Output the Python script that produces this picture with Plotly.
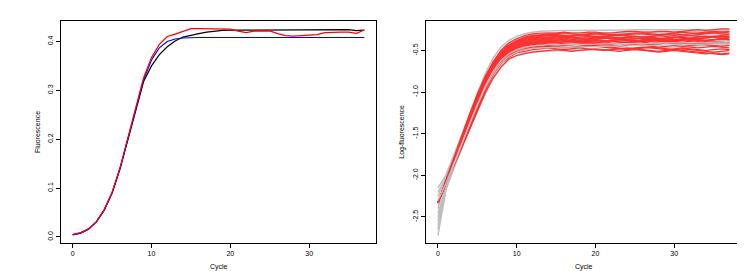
import plotly.graph_objects as go

cycles = list(range(38))

# Left panel: fluorescence curves
fluor_black = [0.005, 0.008, 0.016, 0.031, 0.055, 0.090, 0.139, 0.197, 0.257, 0.318, 0.350, 0.373,
               0.389, 0.401, 0.409, 0.413, 0.416, 0.419, 0.421, 0.4225, 0.423, 0.423, 0.424, 0.424,
               0.4245, 0.424, 0.423, 0.424, 0.424, 0.423, 0.424, 0.424, 0.4235, 0.424, 0.424, 0.424,
               0.422, 0.423]
fluor_blue = [0.004, 0.008, 0.016, 0.031, 0.055, 0.090, 0.140, 0.199, 0.262, 0.322, 0.362, 0.387,
              0.400, 0.405, 0.407, 0.408, 0.408, 0.408, 0.408, 0.408, 0.408, 0.408, 0.408, 0.408,
              0.408, 0.408, 0.408, 0.408, 0.408, 0.408, 0.408, 0.408, 0.408, 0.408, 0.408, 0.408,
              0.408, 0.408]
fluor_red = [0.005, 0.009, 0.016, 0.031, 0.056, 0.091, 0.141, 0.200, 0.264, 0.326, 0.367, 0.394,
             0.410, 0.415, 0.420, 0.426, 0.426, 0.426, 0.426, 0.426, 0.425, 0.421, 0.418, 0.421,
             0.421, 0.4215, 0.416, 0.412, 0.411, 0.412, 0.412, 0.414, 0.418, 0.419, 0.419, 0.419,
             0.4166, 0.4235]

# Right panel: log-fluorescence curves (gray = observed, red = simulated)
gray_1 = [-2.15, -2.00, -1.76, -1.51, -1.26, -1.01, -0.78, -0.59, -0.46, -0.38, -0.33, -0.30,
          -0.28, -0.27, -0.265, -0.26, -0.26, -0.26, -0.26, -0.255, -0.255, -0.255, -0.255, -0.255,
          -0.255, -0.25, -0.25, -0.25, -0.25, -0.25, -0.25, -0.25, -0.25, -0.25, -0.25, -0.25, -0.25, -0.25]
gray_2 = [-2.25, -2.03, -1.79, -1.54, -1.30, -1.06, -0.83, -0.64, -0.50, -0.41, -0.36, -0.33,
          -0.31, -0.30, -0.29, -0.29, -0.29, -0.29, -0.29, -0.285, -0.285, -0.285, -0.285, -0.28,
          -0.28, -0.28, -0.28, -0.28, -0.275, -0.275, -0.275, -0.275, -0.27, -0.27, -0.27, -0.27, -0.27, -0.27]
gray_3 = [-2.40, -2.08, -1.83, -1.58, -1.34, -1.10, -0.87, -0.68, -0.54, -0.45, -0.39, -0.36,
          -0.34, -0.33, -0.32, -0.32, -0.32, -0.32, -0.32, -0.32, -0.315, -0.315, -0.315, -0.315,
          -0.31, -0.31, -0.31, -0.31, -0.31, -0.305, -0.305, -0.305, -0.30, -0.30, -0.30, -0.30, -0.30, -0.30]
gray_4 = [-2.55, -2.12, -1.85, -1.60, -1.36, -1.12, -0.90, -0.71, -0.57, -0.48, -0.42, -0.39,
          -0.37, -0.36, -0.355, -0.35, -0.35, -0.35, -0.35, -0.35, -0.35, -0.345, -0.345, -0.345,
          -0.345, -0.34, -0.34, -0.34, -0.34, -0.34, -0.335, -0.335, -0.335, -0.335, -0.33, -0.33, -0.33, -0.33]
gray_5 = [-2.72, -2.18, -1.90, -1.65, -1.41, -1.17, -0.94, -0.75, -0.61, -0.52, -0.46, -0.43,
          -0.41, -0.40, -0.395, -0.39, -0.39, -0.39, -0.39, -0.39, -0.385, -0.385, -0.385, -0.385,
          -0.38, -0.38, -0.38, -0.38, -0.38, -0.375, -0.375, -0.375, -0.375, -0.37, -0.37, -0.37, -0.37, -0.37]
gray_6 = [-2.30, -2.10, -1.86, -1.62, -1.38, -1.15, -0.93, -0.75, -0.62, -0.54, -0.49, -0.46,
          -0.445, -0.435, -0.43, -0.43, -0.43, -0.43, -0.425, -0.425, -0.425, -0.42, -0.42, -0.42,
          -0.42, -0.415, -0.415, -0.415, -0.41, -0.41, -0.41, -0.41, -0.405, -0.405, -0.405, -0.40, -0.40, -0.40]
gray_7 = [-2.45, -2.17, -1.92, -1.68, -1.45, -1.23, -1.02, -0.84, -0.70, -0.61, -0.56, -0.53,
          -0.515, -0.51, -0.505, -0.50, -0.50, -0.50, -0.495, -0.495, -0.49, -0.49, -0.485, -0.48,
          -0.48, -0.475, -0.47, -0.47, -0.465, -0.46, -0.455, -0.45, -0.45, -0.445, -0.44, -0.44, -0.435, -0.43]
gray_8 = [-2.20, -2.04, -1.80, -1.56, -1.32, -1.08, -0.86, -0.67, -0.54, -0.45, -0.40, -0.37,
          -0.355, -0.345, -0.34, -0.34, -0.34, -0.34, -0.34, -0.335, -0.335, -0.335, -0.335, -0.33,
          -0.33, -0.33, -0.33, -0.325, -0.325, -0.325, -0.325, -0.32, -0.32, -0.32, -0.32, -0.32, -0.32, -0.32]
gray_9 = [-2.60, -2.15, -1.88, -1.63, -1.39, -1.16, -0.95, -0.78, -0.65, -0.57, -0.52, -0.49,
          -0.475, -0.47, -0.465, -0.465, -0.46, -0.46, -0.46, -0.455, -0.455, -0.45, -0.45, -0.445,
          -0.445, -0.44, -0.44, -0.44, -0.435, -0.435, -0.43, -0.43, -0.43, -0.425, -0.425, -0.42, -0.42, -0.42]
gray_10 = [-2.35, -2.06, -1.81, -1.57, -1.33, -1.09, -0.86, -0.67, -0.53, -0.44, -0.38, -0.35,
           -0.33, -0.32, -0.31, -0.31, -0.31, -0.305, -0.305, -0.305, -0.30, -0.30, -0.30, -0.30,
           -0.295, -0.295, -0.295, -0.29, -0.29, -0.29, -0.29, -0.285, -0.285, -0.285, -0.28, -0.28, -0.28, -0.28]
gray_11 = [-2.50, -2.13, -1.87, -1.62, -1.38, -1.14, -0.91, -0.73, -0.60, -0.51, -0.46, -0.43,
           -0.41, -0.40, -0.40, -0.40, -0.40, -0.40, -0.395, -0.395, -0.395, -0.395, -0.39, -0.39,
           -0.39, -0.39, -0.385, -0.385, -0.385, -0.385, -0.38, -0.38, -0.38, -0.38, -0.38, -0.38, -0.38, -0.38]
gray_12 = [-2.65, -2.16, -1.89, -1.64, -1.40, -1.17, -0.95, -0.77, -0.63, -0.55, -0.50, -0.47,
           -0.45, -0.44, -0.44, -0.44, -0.44, -0.44, -0.435, -0.435, -0.435, -0.435, -0.43, -0.43,
           -0.43, -0.43, -0.425, -0.425, -0.425, -0.42, -0.42, -0.42, -0.415, -0.415, -0.415, -0.41, -0.41, -0.41]

red_1 = [-2.33, -2.07, -1.81, -1.56, -1.30, -1.05, -0.83, -0.64, -0.50, -0.41, -0.36, -0.32,
         -0.30, -0.29, -0.29, -0.29, -0.28, -0.29, -0.29, -0.28, -0.28, -0.29, -0.29, -0.28, -0.27,
         -0.27, -0.28, -0.28, -0.27, -0.27, -0.28, -0.27, -0.26, -0.25, -0.26, -0.25, -0.24, -0.24]
red_2 = [-2.33, -2.06, -1.80, -1.53, -1.27, -1.02, -0.81, -0.64, -0.51, -0.43, -0.38, -0.34,
         -0.32, -0.31, -0.30, -0.30, -0.29, -0.30, -0.31, -0.30, -0.29, -0.30, -0.31, -0.31, -0.30,
         -0.29, -0.29, -0.30, -0.31, -0.30, -0.29, -0.28, -0.29, -0.30, -0.29, -0.28, -0.28, -0.29]
red_3 = [-2.33, -2.08, -1.84, -1.59, -1.35, -1.11, -0.88, -0.69, -0.55, -0.45, -0.39, -0.36,
         -0.34, -0.33, -0.32, -0.32, -0.33, -0.32, -0.31, -0.32, -0.33, -0.33, -0.32, -0.31, -0.32,
         -0.33, -0.34, -0.33, -0.32, -0.31, -0.30, -0.31, -0.32, -0.31, -0.30, -0.29, -0.30, -0.31]
red_4 = [-2.33, -2.07, -1.82, -1.57, -1.31, -1.07, -0.85, -0.67, -0.54, -0.46, -0.40, -0.37,
         -0.35, -0.34, -0.34, -0.33, -0.33, -0.34, -0.35, -0.35, -0.34, -0.33, -0.34, -0.35, -0.36,
         -0.36, -0.35, -0.34, -0.35, -0.36, -0.37, -0.36, -0.35, -0.34, -0.33, -0.34, -0.35, -0.34]
red_5 = [-2.33, -2.09, -1.86, -1.63, -1.40, -1.15, -0.92, -0.72, -0.58, -0.47, -0.42, -0.39,
         -0.37, -0.36, -0.35, -0.35, -0.34, -0.35, -0.36, -0.36, -0.35, -0.34, -0.34, -0.35, -0.34,
         -0.33, -0.34, -0.35, -0.36, -0.35, -0.34, -0.33, -0.32, -0.33, -0.34, -0.33, -0.32, -0.33]
red_6 = [-2.33, -2.07, -1.82, -1.57, -1.32, -1.08, -0.86, -0.69, -0.57, -0.48, -0.43, -0.40,
         -0.38, -0.37, -0.36, -0.36, -0.37, -0.38, -0.38, -0.37, -0.36, -0.35, -0.36, -0.37, -0.38,
         -0.38, -0.37, -0.36, -0.37, -0.38, -0.39, -0.40, -0.39, -0.38, -0.39, -0.40, -0.41, -0.40]
red_7 = [-2.33, -2.08, -1.84, -1.60, -1.36, -1.12, -0.90, -0.71, -0.58, -0.49, -0.44, -0.41,
         -0.39, -0.38, -0.37, -0.38, -0.38, -0.37, -0.36, -0.37, -0.38, -0.39, -0.38, -0.37, -0.37,
         -0.36, -0.35, -0.36, -0.37, -0.36, -0.35, -0.34, -0.35, -0.36, -0.35, -0.34, -0.33, -0.34]
red_8 = [-2.33, -2.09, -1.86, -1.63, -1.40, -1.16, -0.93, -0.74, -0.60, -0.50, -0.45, -0.42,
         -0.40, -0.39, -0.38, -0.38, -0.39, -0.40, -0.39, -0.38, -0.37, -0.38, -0.39, -0.40, -0.41,
         -0.40, -0.39, -0.38, -0.39, -0.40, -0.41, -0.42, -0.43, -0.42, -0.43, -0.44, -0.45, -0.44]
red_9 = [-2.33, -2.07, -1.82, -1.57, -1.32, -1.08, -0.87, -0.71, -0.59, -0.51, -0.46, -0.43,
         -0.41, -0.40, -0.39, -0.40, -0.41, -0.41, -0.40, -0.39, -0.40, -0.41, -0.42, -0.41, -0.40,
         -0.39, -0.38, -0.37, -0.38, -0.39, -0.38, -0.37, -0.36, -0.37, -0.38, -0.37, -0.36, -0.37]
red_10 = [-2.33, -2.08, -1.84, -1.60, -1.36, -1.13, -0.91, -0.73, -0.60, -0.52, -0.47, -0.44,
          -0.42, -0.41, -0.40, -0.41, -0.42, -0.43, -0.42, -0.41, -0.42, -0.43, -0.44, -0.45, -0.44,
          -0.43, -0.44, -0.45, -0.46, -0.45, -0.44, -0.45, -0.46, -0.47, -0.46, -0.45, -0.46, -0.47]
red_11 = [-2.33, -2.09, -1.86, -1.63, -1.41, -1.17, -0.95, -0.76, -0.63, -0.53, -0.49, -0.46,
          -0.44, -0.43, -0.42, -0.43, -0.44, -0.43, -0.42, -0.41, -0.42, -0.43, -0.42, -0.41, -0.40,
          -0.41, -0.42, -0.43, -0.42, -0.41, -0.42, -0.43, -0.44, -0.43, -0.42, -0.41, -0.40, -0.41]
red_12 = [-2.33, -2.10, -1.88, -1.67, -1.45, -1.22, -0.98, -0.79, -0.65, -0.55, -0.51, -0.48,
          -0.46, -0.45, -0.44, -0.45, -0.46, -0.47, -0.46, -0.45, -0.44, -0.45, -0.46, -0.47, -0.48,
          -0.47, -0.46, -0.47, -0.48, -0.49, -0.48, -0.47, -0.48, -0.49, -0.50, -0.49, -0.48, -0.49]
red_13 = [-2.33, -2.09, -1.87, -1.64, -1.41, -1.18, -0.96, -0.79, -0.66, -0.58, -0.53, -0.51,
          -0.49, -0.48, -0.47, -0.48, -0.49, -0.48, -0.47, -0.48, -0.49, -0.50, -0.49, -0.48, -0.47,
          -0.48, -0.49, -0.50, -0.51, -0.50, -0.49, -0.48, -0.49, -0.50, -0.51, -0.52, -0.51, -0.50]
red_14 = [-2.33, -2.10, -1.89, -1.67, -1.46, -1.23, -1.01, -0.83, -0.70, -0.60, -0.56, -0.54,
          -0.52, -0.51, -0.50, -0.49, -0.50, -0.51, -0.50, -0.49, -0.48, -0.49, -0.50, -0.51, -0.50,
          -0.49, -0.50, -0.51, -0.52, -0.51, -0.50, -0.51, -0.52, -0.53, -0.54, -0.53, -0.54, -0.53]
red_15 = [-2.33, -2.07, -1.82, -1.57, -1.31, -1.07, -0.85, -0.67, -0.55, -0.47, -0.41, -0.38,
          -0.36, -0.35, -0.34, -0.35, -0.36, -0.35, -0.34, -0.33, -0.34, -0.35, -0.36, -0.35, -0.34,
          -0.35, -0.36, -0.37, -0.36, -0.35, -0.34, -0.35, -0.36, -0.37, -0.38, -0.37, -0.36, -0.37]
red_16 = [-2.33, -2.08, -1.84, -1.60, -1.36, -1.13, -0.91, -0.74, -0.61, -0.53, -0.48, -0.45,
          -0.43, -0.42, -0.41, -0.41, -0.40, -0.39, -0.40, -0.41, -0.42, -0.41, -0.40, -0.39, -0.38,
          -0.39, -0.40, -0.41, -0.40, -0.39, -0.38, -0.37, -0.38, -0.39, -0.38, -0.37, -0.36, -0.37]
red_17 = [-2.33, -2.07, -1.81, -1.56, -1.31, -1.06, -0.84, -0.66, -0.53, -0.44, -0.38, -0.35,
          -0.33, -0.32, -0.31, -0.31, -0.32, -0.33, -0.32, -0.31, -0.30, -0.31, -0.32, -0.32, -0.31,
          -0.30, -0.30, -0.31, -0.32, -0.33, -0.32, -0.31, -0.30, -0.29, -0.28, -0.27, -0.28, -0.27]
red_18 = [-2.33, -2.09, -1.86, -1.64, -1.41, -1.18, -0.96, -0.78, -0.65, -0.56, -0.52, -0.49,
          -0.47, -0.46, -0.45, -0.46, -0.47, -0.46, -0.45, -0.44, -0.45, -0.46, -0.47, -0.48, -0.49,
          -0.48, -0.47, -0.46, -0.47, -0.48, -0.49, -0.50, -0.51, -0.52, -0.53, -0.54, -0.55, -0.54]
red_19 = [-2.33, -2.06, -1.80, -1.54, -1.28, -1.04, -0.84, -0.68, -0.57, -0.49, -0.44, -0.41,
          -0.39, -0.38, -0.37, -0.36, -0.37, -0.38, -0.39, -0.38, -0.37, -0.36, -0.35, -0.36, -0.37,
          -0.38, -0.39, -0.38, -0.37, -0.36, -0.37, -0.38, -0.37, -0.36, -0.35, -0.34, -0.35, -0.36]
red_20 = [-2.33, -2.10, -1.88, -1.66, -1.44, -1.21, -0.97, -0.77, -0.62, -0.52, -0.47, -0.44,
          -0.42, -0.41, -0.40, -0.39, -0.38, -0.39, -0.40, -0.41, -0.40, -0.39, -0.38, -0.37, -0.38,
          -0.39, -0.40, -0.39, -0.38, -0.39, -0.40, -0.41, -0.42, -0.41, -0.40, -0.39, -0.40, -0.41]

gray_under = [gray_1, gray_2, gray_3, gray_4, gray_5, gray_7, gray_8, gray_10, gray_11, gray_12]
gray_over = [gray_6, gray_9]
red_curves = [red_1, red_2, red_3, red_4, red_5, red_6, red_7, red_8, red_9, red_10,
              red_11, red_12, red_13, red_14, red_15, red_16, red_17, red_18, red_19, red_20]

x_ticks = [0, 10, 20, 30]
y1_ticks = [0.0, 0.1, 0.2, 0.3, 0.4]
y1_labels = ["0.0", "0.1", "0.2", "0.3", "0.4"]
y2_ticks = [-2.5, -2.0, -1.5, -1.0, -0.5]
y2_labels = ["-2.5", "-2.0", "-1.5", "-1.0", "-0.5"]

GRAY = "rgb(190,190,190)"
RED = "rgb(255,48,48)"

fig = go.Figure()

for ys, col in ((fluor_black, "black"), (fluor_blue, "blue"), (fluor_red, "red")):
    fig.add_trace(go.Scatter(x=cycles, y=ys, mode="lines", line=dict(color=col, width=1.2),
                             xaxis="x", yaxis="y", hoverinfo="skip"))

for ys in gray_under:
    fig.add_trace(go.Scatter(x=cycles, y=ys, mode="lines", line=dict(color=GRAY, width=1.5),
                             xaxis="x2", yaxis="y2", hoverinfo="skip"))
for ys in red_curves:
    fig.add_trace(go.Scatter(x=cycles, y=ys, mode="lines", line=dict(color=RED, width=1.2),
                             xaxis="x2", yaxis="y2", hoverinfo="skip"))
for ys in gray_over:
    fig.add_trace(go.Scatter(x=cycles, y=ys, mode="lines", line=dict(color=GRAY, width=1.3),
                             xaxis="x2", yaxis="y2", hoverinfo="skip"))

W, H = 745, 271
yd = [1 - 235 / H, 1 - 13 / H]
axis_common = dict(showline=True, mirror=True, linecolor="black", linewidth=1,
                   ticks="outside", ticklen=4, tickcolor="black", tickwidth=1,
                   showgrid=False, zeroline=False,
                   tickfont=dict(family="Liberation Sans, Arial, sans-serif", size=7, color="black"))

fig.update_layout(
    width=W, height=H, margin=dict(l=0, r=0, t=0, b=0),
    paper_bgcolor="white", plot_bgcolor="white", showlegend=False,
    xaxis=dict(domain=[53 / W, 368 / W], range=[-1.48, 38.48], tickvals=x_ticks,
               anchor="y", **axis_common),
    yaxis=dict(domain=yd, range=[-0.0123, 0.4418], tickvals=y1_ticks, ticktext=y1_labels,
               tickangle=-90, anchor="x", **axis_common),
    xaxis2=dict(domain=[418 / W, 734 / W], range=[-1.52, 38.6], tickvals=x_ticks,
                anchor="y2", **axis_common),
    yaxis2=dict(domain=yd, range=[-2.813, -0.146], tickvals=y2_ticks, ticktext=y2_labels,
                tickangle=-90, anchor="x2", **axis_common),
)

font_t = dict(family="Liberation Sans, Arial, sans-serif", size=7, color="black")
annots = [
    dict(text="Cycle", x=(53 + 368) / 2 / W, y=1 - 259 / H, textangle=0),
    dict(text="Cycle", x=(418 + 734) / 2 / W, y=1 - 259 / H, textangle=0),
    dict(text="Fluorescence", x=29 / W, y=1 - 124 / H, textangle=-90),
    dict(text="Log-fluorescence", x=393.7 / W, y=1 - 124 / H, textangle=-90),
]
for a in annots:
    fig.add_annotation(xref="paper", yref="paper", showarrow=False, font=font_t,
                       xanchor="center", yanchor="middle", **a)

fig.write_html("out.html")
